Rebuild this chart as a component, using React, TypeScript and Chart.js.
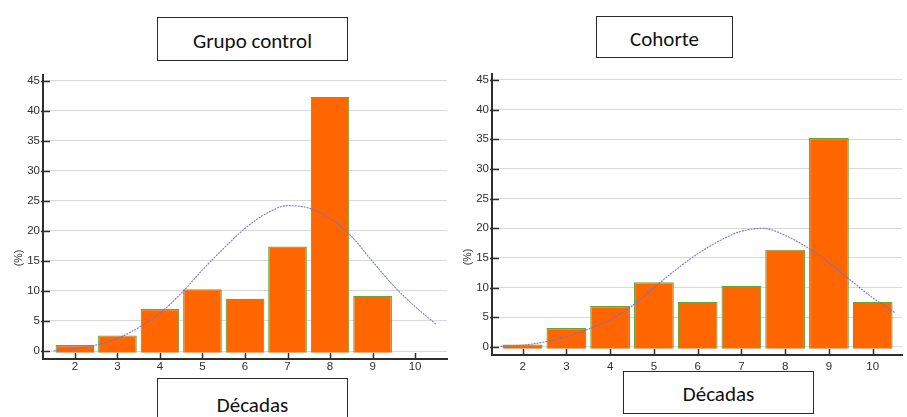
import React, { useEffect, useRef } from 'react';
import { Chart, registerables } from 'chart.js';

Chart.register(...registerables);

// ---- data ----
const controlDecades = [2, 3, 4, 5, 6, 7, 8, 9];
const controlPct = [1.0, 2.6, 7.0, 10.3, 8.7, 17.4, 42.3, 9.2];
const cohortDecades = [2, 3, 4, 5, 6, 7, 8, 9, 10];
const cohortPct = [0.4, 3.2, 6.9, 10.9, 7.6, 10.3, 16.4, 35.2, 7.6];

const curveX = [1.5, 2, 2.5, 3, 3.5, 4, 4.5, 5, 5.5, 6, 6.5, 7, 7.5, 8, 8.5, 9, 9.5, 10, 10.5];
const controlCurve = [0.05, 0.45, 1.0, 2.1, 3.9, 6.3, 9.6, 13.5, 17.1, 20.4, 22.9, 24.2, 23.8, 22.1, 19.1, 14.9, 10.8, 7.4, 4.4];
const cohortCurve = [0.1, 0.3, 0.85, 1.7, 3.0, 4.6, 6.9, 10.0, 13.0, 15.7, 17.9, 19.5, 20.0, 18.8, 16.8, 14.2, 11.2, 8.3, 5.8];

const xTickValues = [2, 3, 4, 5, 6, 7, 8, 9, 10];
const yTickValues = [0, 5, 10, 15, 20, 25, 30, 35, 40, 45];

const titles = ['Grupo control', 'Cohorte'];
const xTitle = 'Décadas';
const yTitle = '(%)';

const BAR_FILL = '#FF6600';
const BAR_EDGE = '#62a83a';
const CURVE = 'rgba(110,110,222,0.95)';
const AXIS = '#2e2e2e';
const TICK_FONT = { family: '"Liberation Sans", Arial, sans-serif', size: 11.5 };

const innerTicks = {
  id: 'innerTicks',
  afterDatasetsDraw(chart: any) {
    const { ctx, chartArea } = chart;
    const x = chart.scales.x;
    const y = chart.scales.y;
    ctx.save();
    ctx.strokeStyle = AXIS;
    ctx.lineWidth = 1.5;
    ctx.beginPath();
    x.ticks.forEach((t: any) => {
      const px = Math.round(x.getPixelForValue(t.value)) + 0.5;
      ctx.moveTo(px, chartArea.bottom);
      ctx.lineTo(px, chartArea.bottom - 6);
    });
    y.ticks.forEach((t: any) => {
      const py = Math.round(y.getPixelForValue(t.value)) + 0.5;
      ctx.moveTo(chartArea.left - 2, py);
      ctx.lineTo(chartArea.left + 7, py);
    });
    ctx.stroke();
    ctx.restore();
  },
};

type PanelProps = {
  left: number;
  top: number;
  width: number;
  height: number;
  decades: number[];
  pct: number[];
  curve: number[];
  xMin: number;
  xMax: number;
  yMin: number;
  yMax: number;
  pad: { top: number; right: number };
  yWidth: number;
  xHeight: number;
  xLabelPad: number;
};

function Panel(p: PanelProps) {
  const ref = useRef<HTMLCanvasElement | null>(null);
  useEffect(() => {
    if (!ref.current) return;
    const chart = new Chart(ref.current, {
      type: 'bar',
      data: {
        datasets: [
          {
            type: 'line',
            data: curveX.map((x, i) => ({ x, y: p.curve[i] })),
            borderColor: CURVE,
            borderWidth: 1.1,
            borderDash: [2, 1],
            pointRadius: 0,
            cubicInterpolationMode: 'monotone',
            fill: false,
            order: 0,
          } as any,
          {
            type: 'bar',
            data: p.decades.map((x, i) => ({ x, y: p.pct[i] })),
            backgroundColor: BAR_FILL,
            borderColor: BAR_EDGE,
            borderWidth: 1.2,
            barPercentage: 0.91,
            categoryPercentage: 1,
            base: -0.3,
            order: 1,
          } as any,
        ],
      },
      options: {
        animation: false,
        responsive: false,
        layout: { padding: { top: p.pad.top, right: p.pad.right, left: 0, bottom: 0 } },
        plugins: { legend: { display: false }, tooltip: { enabled: false }, title: { display: false } },
        scales: {
          x: {
            type: 'linear',
            min: p.xMin,
            max: p.xMax,
            offset: false,
            afterBuildTicks: (s: any) => {
              s.ticks = xTickValues.map((v) => ({ value: v }));
            },
            afterFit: (s: any) => {
              s.height = p.xHeight;
            },
            grid: { display: true, drawOnChartArea: false, drawTicks: false },
            border: { display: true, color: AXIS, width: 2 },
            ticks: { font: TICK_FONT, color: AXIS, padding: p.xLabelPad, maxRotation: 0, autoSkip: false },
          },
          y: {
            type: 'linear',
            min: p.yMin,
            max: p.yMax,
            afterBuildTicks: (s: any) => {
              s.ticks = yTickValues.map((v) => ({ value: v }));
            },
            afterFit: (s: any) => {
              s.width = p.yWidth;
            },
            grid: { color: '#d9d9d9', lineWidth: 1, drawTicks: false },
            border: { display: true, color: AXIS, width: 2 },
            ticks: { font: TICK_FONT, color: AXIS, padding: 3, autoSkip: false },
          },
        },
      },
      plugins: [innerTicks],
    });
    return () => chart.destroy();
  }, []);
  return (
    <canvas
      ref={ref}
      width={p.width}
      height={p.height}
      style={{ position: 'absolute', left: p.left, top: p.top, width: p.width, height: p.height }}
    />
  );
}

const boxFont = 'Carlito, Lato, "Open Sans", sans-serif';

function Box(props: { left: number; top: number; width: number; height: number; text: string; size: number; padTop?: number }) {
  return (
    <div
      style={{
        position: 'absolute',
        left: props.left,
        top: props.top,
        width: props.width,
        height: props.height,
        boxSizing: 'border-box',
        border: '1.5px solid #2a2a2a',
        background: '#fff',
        display: 'flex',
        alignItems: 'center',
        justifyContent: 'center',
        paddingTop: props.padTop || 0,
        fontFamily: boxFont,
        fontSize: props.size,
        color: '#111',
        whiteSpace: 'nowrap',
      }}
    >
      {props.text}
    </div>
  );
}

function YLabel(props: { cx: number; cy: number }) {
  return (
    <div
      style={{
        position: 'absolute',
        left: props.cx - 20,
        top: props.cy - 7,
        width: 40,
        height: 14,
        lineHeight: '14px',
        textAlign: 'center',
        transform: 'rotate(-90deg)',
        fontFamily: '"Liberation Sans", Arial, sans-serif',
        fontSize: 10.5,
        color: '#333',
      }}
    >
      {yTitle}
    </div>
  );
}

export default function App() {
  useEffect(() => {
    document.body.style.margin = '0';
  }, []);
  return (
    <div style={{ position: 'absolute', left: 0, top: 0, width: 907, height: 417, overflow: 'hidden', background: '#fff' }}>
      <Panel
        left={0}
        top={60}
        width={460}
        height={320}
        decades={controlDecades}
        pct={controlPct}
        curve={controlCurve}
        xMin={1.25}
        xMax={10.75}
        yMin={-1.33}
        yMax={45.95}
        pad={{ top: 15, right: 13 }}
        yWidth={43}
        xHeight={21}
        xLabelPad={1}
      />
      <Panel
        left={450}
        top={60}
        width={457}
        height={320}
        decades={cohortDecades}
        pct={cohortPct}
        curve={cohortCurve}
        xMin={1.3}
        xMax={10.67}
        yMin={-1.35}
        yMax={46.0}
        pad={{ top: 14, right: 5 }}
        yWidth={42}
        xHeight={25}
        xLabelPad={5}
      />
      <YLabel cx={18} cy={258} />
      <YLabel cx={467} cy={257} />
      <Box left={157} top={17} width={191} height={44} text={titles[0]} size={21} padTop={3} />
      <Box left={596} top={16} width={137} height={42} text={titles[1]} size={21} padTop={3} />
      <Box left={157} top={378} width={191} height={50} text={xTitle} size={21} padTop={3} />
      <Box left={623} top={371} width={191} height={43} text={xTitle} size={21} padTop={3} />
    </div>
  );
}
